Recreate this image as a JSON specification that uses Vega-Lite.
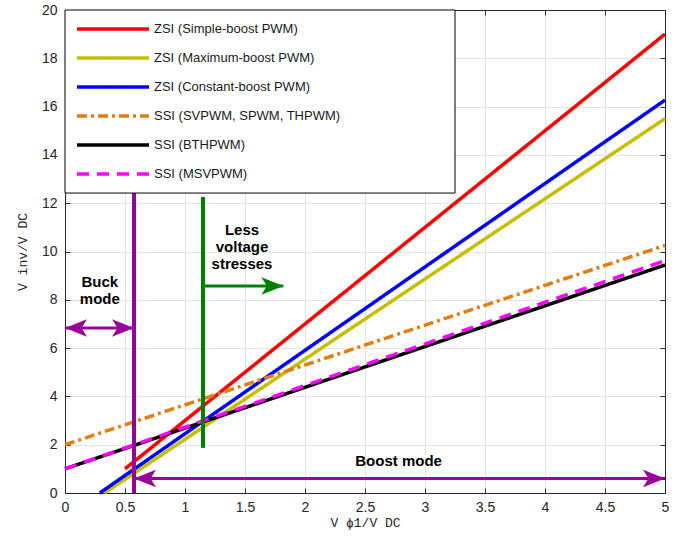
{
  "$schema": "https://vega.github.io/schema/vega-lite/v6.json",
  "width": 600,
  "height": 483,
  "autosize": "none",
  "padding": {"left": 65, "top": 10, "right": 25, "bottom": 53},
  "background": "white",
  "config": {
    "view": {"stroke": null},
    "axis": {
      "labelFont": "Liberation Sans",
      "labelFontSize": 14,
      "labelColor": "#262626",
      "domainColor": "#262626",
      "tickColor": "#262626",
      "gridColor": "#E3E3E3",
      "titleFont": "Liberation Mono",
      "titleFontSize": 13,
      "titleFontWeight": "normal",
      "titleColor": "#262626"
    },
    "legend": {
      "labelFont": "Liberation Sans",
      "labelFontSize": 13,
      "labelColor": "#1a1a1a"
    }
  },
  "datasets": {
    "lines": [
      {"series": "ZSI (Simple-boost PWM)", "x": 0.5, "y": 1.0},
      {"series": "ZSI (Simple-boost PWM)", "x": 5, "y": 19.0},
      {"series": "ZSI (Maximum-boost PWM)", "x": 0.33, "y": 0},
      {"series": "ZSI (Maximum-boost PWM)", "x": 5, "y": 15.5},
      {"series": "ZSI (Constant-boost PWM)", "x": 0.29, "y": 0},
      {"series": "ZSI (Constant-boost PWM)", "x": 5, "y": 16.27},
      {"series": "SSI (SVPWM, SPWM, THPWM)", "x": 0, "y": 2.0},
      {"series": "SSI (SVPWM, SPWM, THPWM)", "x": 5, "y": 10.25},
      {"series": "SSI (BTHPWM)", "x": 0, "y": 1.0},
      {"series": "SSI (BTHPWM)", "x": 5, "y": 9.44},
      {"series": "SSI (MSVPWM)", "x": 0, "y": 1.0},
      {"series": "SSI (MSVPWM)", "x": 5, "y": 9.62}
    ],
    "guides": [
      {"kind": "mode", "part": "divider", "x": 0.575, "y": 0, "x2": 0.575, "y2": 20},
      {"kind": "mode", "part": "shaft", "x": 0, "y": 6.83, "x2": 0.575, "y2": 6.83},
      {"kind": "mode", "part": "shaft", "x": 0.575, "y": 0.6, "x2": 5, "y2": 0.6},
      {"kind": "stress", "part": "divider", "x": 1.15, "y": 1.87, "x2": 1.15, "y2": 12.26},
      {"kind": "stress", "part": "shaft", "x": 1.15, "y": 8.57, "x2": 1.82, "y2": 8.57}
    ],
    "heads": [
      {"kind": "mode", "dir": "left", "x": 0, "y": 6.83},
      {"kind": "mode", "dir": "right", "x": 0.575, "y": 6.83},
      {"kind": "mode", "dir": "left", "x": 0.575, "y": 0.6},
      {"kind": "mode", "dir": "right", "x": 5, "y": 0.6},
      {"kind": "stress", "dir": "right", "x": 1.82, "y": 8.57}
    ],
    "notes": [
      {"x": 0.29, "y": 8.74, "text": "Buck\nmode"},
      {"x": 1.475, "y": 10.89, "text": "Less\nvoltage\nstresses"},
      {"x": 2.78, "y": 1.33, "text": "Boost mode"}
    ],
    "box": [
      {"x": 0, "x2": 3.25, "y": 12.42, "y2": 20}
    ]
  },
  "layer": [
    {
      "data": {"name": "lines"},
      "mark": {"type": "line", "strokeWidth": 3.5, "strokeCap": "butt"},
      "encoding": {
        "x": {
          "field": "x", "type": "quantitative",
          "scale": {"domain": [0, 5], "nice": false},
          "axis": {
            "values": [0, 0.5, 1, 1.5, 2, 2.5, 3, 3.5, 4, 4.5, 5],
            "format": "~g",
            "title": "V ϕ1/V DC",
            "tickSize": -5,
            "labelPadding": 12,
            "titlePadding": 2,
            "grid": true,
            "labelFlush": false
          }
        },
        "y": {
          "field": "y", "type": "quantitative",
          "scale": {"domain": [0, 20], "nice": false},
          "axis": {
            "values": [0, 2, 4, 6, 8, 10, 12, 14, 16, 18, 20],
            "format": "~g",
            "title": "V inv/V DC",
            "tickSize": -5,
            "labelPadding": 13,
            "titlePadding": 12,
            "grid": true,
            "labelFlush": false
          }
        },
        "color": {
          "field": "series", "type": "nominal",
          "scale": {
            "domain": ["ZSI (Simple-boost PWM)", "ZSI (Maximum-boost PWM)", "ZSI (Constant-boost PWM)", "SSI (SVPWM, SPWM, THPWM)", "SSI (BTHPWM)", "SSI (MSVPWM)"],
            "range": ["#FF0000", "#C4C000", "#0000FF", "#E07E10", "#000000", "#FF00FF"]
          },
          "legend": {
            "title": null,
            "orient": "top-left",
            "offset": 0,
            "padding": 10,
            "symbolType": "M-4.97,0H4.97",
            "symbolSize": 210,
            "symbolOffset": 29,
            "symbolStrokeWidth": 3.5,
            "labelOffset": 32,
            "labelLimit": 300,
            "rowPadding": 13
          }
        },
        "strokeDash": {
          "field": "series", "type": "nominal",
          "scale": {
            "domain": ["ZSI (Simple-boost PWM)", "ZSI (Maximum-boost PWM)", "ZSI (Constant-boost PWM)", "SSI (SVPWM, SPWM, THPWM)", "SSI (BTHPWM)", "SSI (MSVPWM)"],
            "range": [[1, 0], [1, 0], [1, 0], [10, 4, 3, 4], [1, 0], [12, 8]]
          },
          "legend": {
            "title": null,
            "orient": "top-left",
            "offset": 0,
            "padding": 10,
            "symbolType": "M-4.97,0H4.97",
            "symbolSize": 210,
            "symbolOffset": 29,
            "symbolStrokeWidth": 3.5,
            "labelOffset": 32,
            "labelLimit": 300,
            "rowPadding": 13
          }
        }
      }
    },
    {
      "data": {"name": "guides"},
      "mark": {"type": "rule", "strokeCap": "butt"},
      "encoding": {
        "x": {"field": "x", "type": "quantitative", "scale": {"domain": [0, 5], "nice": false}, "axis": null},
        "y": {"field": "y", "type": "quantitative", "scale": {"domain": [0, 20], "nice": false}, "axis": null},
        "x2": {"field": "x2"},
        "y2": {"field": "y2"},
        "color": {"field": "kind", "type": "nominal", "scale": {"domain": ["mode", "stress"], "range": ["#990099", "#008000"]}, "legend": null},
        "strokeWidth": {"field": "part", "type": "nominal", "scale": {"domain": ["divider", "shaft"], "range": [4, 3]}, "legend": null}
      }
    },
    {
      "data": {"name": "heads"},
      "mark": {"type": "point", "filled": true, "size": 484, "opacity": 1, "strokeWidth": 0},
      "encoding": {
        "x": {"field": "x", "type": "quantitative", "scale": {"domain": [0, 5], "nice": false}, "axis": null},
        "y": {"field": "y", "type": "quantitative", "scale": {"domain": [0, 20], "nice": false}, "axis": null},
        "color": {"field": "kind", "type": "nominal", "scale": {"domain": ["mode", "stress"], "range": ["#990099", "#008000"]}, "legend": null},
        "shape": {"field": "dir", "type": "nominal", "scale": {"domain": ["left", "right"], "range": ["M0,0L2,-0.8L1.5,0L2,0.8Z", "M0,0L-2,-0.8L-1.5,0L-2,0.8Z"]}, "legend": null}
      }
    },
    {
      "data": {"name": "notes"},
      "mark": {"type": "text", "font": "Liberation Sans", "fontSize": 15, "fontWeight": "bold", "lineBreak": "\n", "lineHeight": 17, "align": "center", "baseline": "middle", "color": "#000000"},
      "encoding": {
        "x": {"field": "x", "type": "quantitative", "scale": {"domain": [0, 5], "nice": false}, "axis": null},
        "y": {"field": "y", "type": "quantitative", "scale": {"domain": [0, 20], "nice": false}, "axis": null},
        "text": {"field": "text", "type": "nominal"}
      }
    },
    {
      "data": {"name": "box"},
      "mark": {"type": "rect", "fill": "white", "stroke": "black", "strokeWidth": 1},
      "encoding": {
        "x": {"field": "x", "type": "quantitative", "scale": {"domain": [0, 5], "nice": false},
          "axis": {"orient": "top", "values": [0, 0.5, 1, 1.5, 2, 2.5, 3, 3.5, 4, 4.5, 5], "labels": false, "title": null, "grid": false, "tickSize": -5, "domainColor": "#262626"}},
        "x2": {"field": "x2"},
        "y": {"field": "y", "type": "quantitative", "scale": {"domain": [0, 20], "nice": false},
          "axis": {"orient": "right", "values": [0, 2, 4, 6, 8, 10, 12, 14, 16, 18, 20], "labels": false, "title": null, "grid": false, "tickSize": -5}},
        "y2": {"field": "y2"}
      }
    }
  ],
  "resolve": {
    "scale": {"color": "independent", "strokeWidth": "independent", "shape": "independent", "strokeDash": "independent"},
    "axis": {"x": "independent", "y": "independent"}
  }
}
